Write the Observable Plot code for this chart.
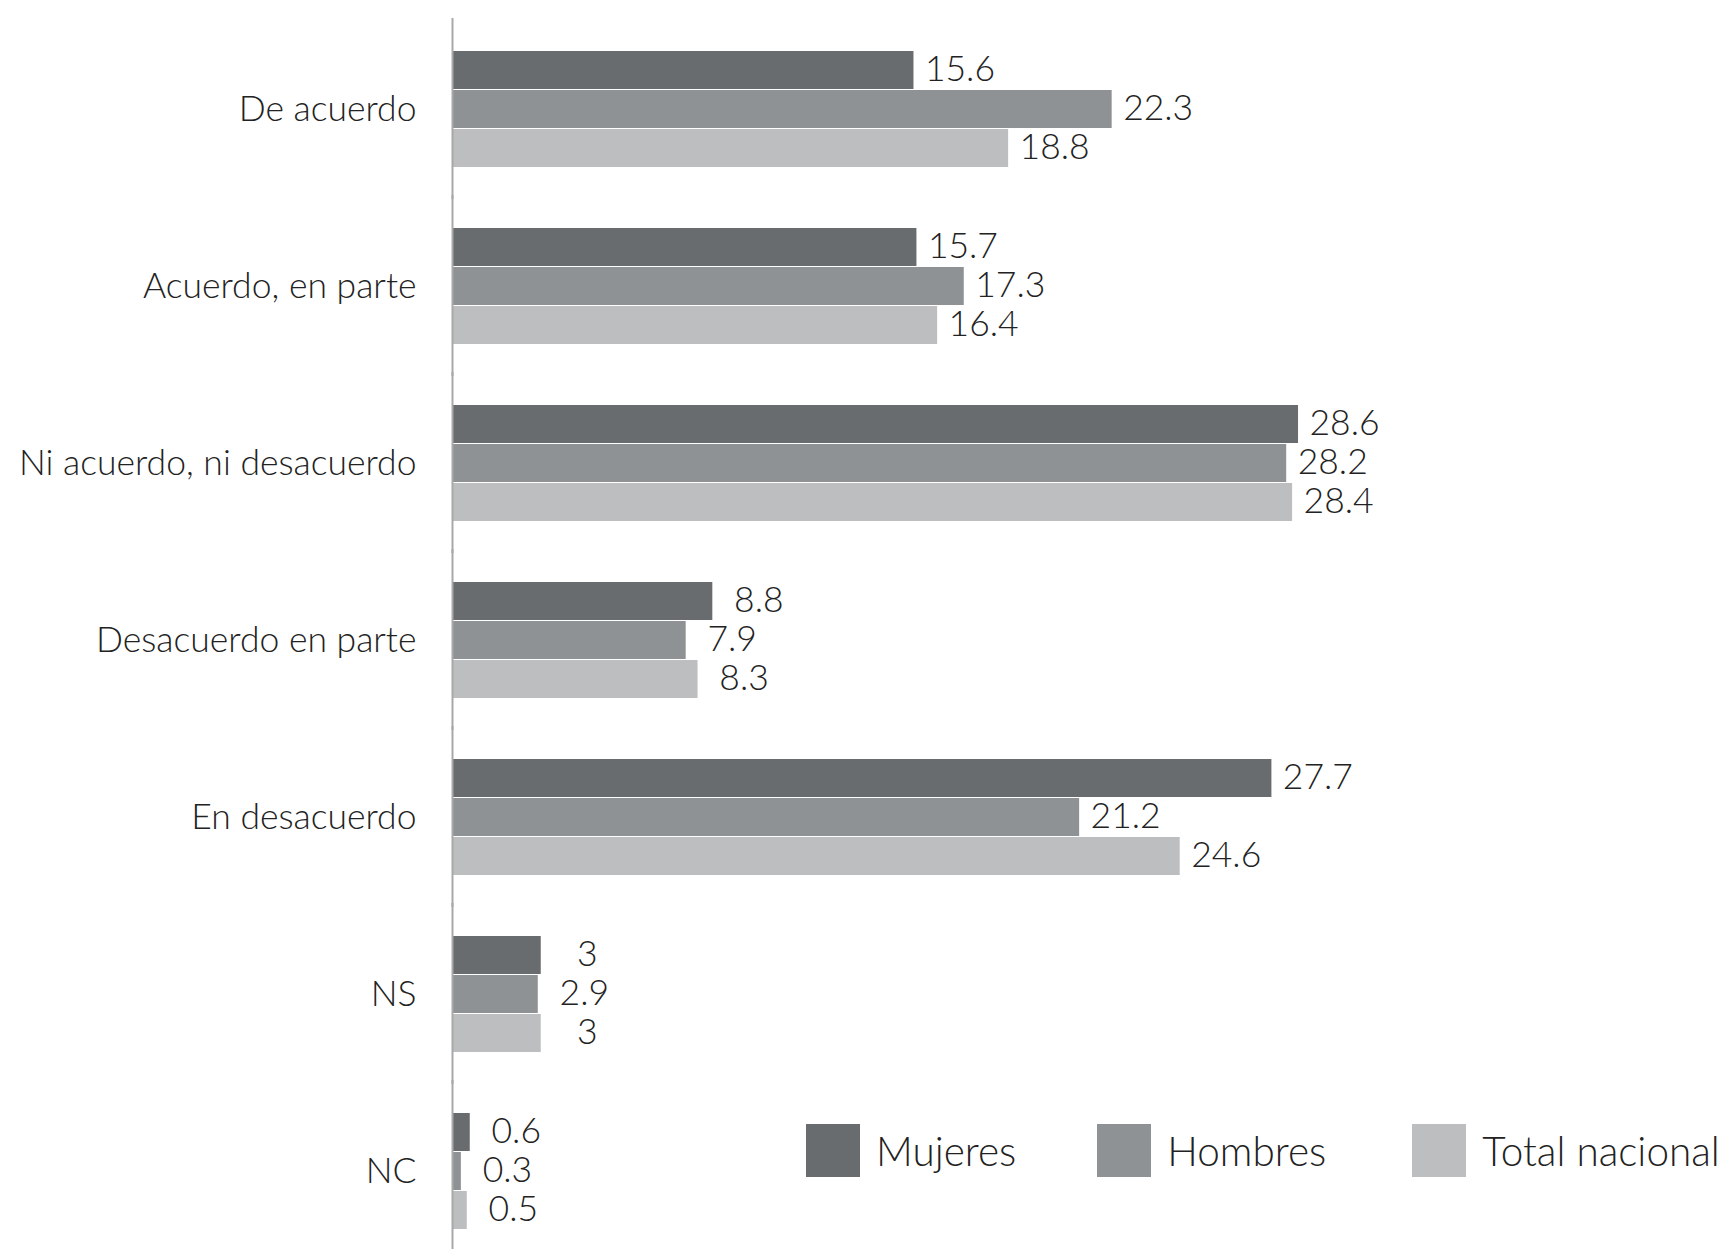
<!DOCTYPE html>
<html>
<head>
<meta charset="utf-8">
<script src="https://cdn.jsdelivr.net/npm/d3@7"></script>
<script src="https://cdn.jsdelivr.net/npm/@observablehq/plot@0.6"></script>
<style>
  html, body { margin: 0; padding: 0; background: #fff; }
  #wrap { position: relative; width: 1724px; height: 1249px; overflow: hidden; }
  #legend { position: absolute; left: 806px; top: 1124px; display: flex; align-items: center;
            font-family: Lato, "Open Sans", sans-serif; font-weight: 300; font-size: 40.5px; color: #222; }
  #legend .item { display: flex; align-items: center; }
  #legend .sw { width: 54px; height: 53px; margin-right: 16px; }
</style>
</head>
<body>
<div id="wrap"></div>
<script>
const categories = ["De acuerdo", "Acuerdo, en parte", "Ni acuerdo, ni desacuerdo", "Desacuerdo en parte", "En desacuerdo", "NS", "NC"];
const series = ["Mujeres", "Hombres", "Total nacional"];
const mujeres = [15.6, 15.7, 28.6, 8.8, 27.7, 3, 0.6];
const hombres = [22.3, 17.3, 28.2, 7.9, 21.2, 2.9, 0.3];
const totalNacional = [18.8, 16.4, 28.4, 8.3, 24.6, 3, 0.5];
const seriesColors = ["#696c6e", "#8f9294", "#bcbebf"];

const valuesBySeries = [mujeres, hombres, totalNacional];
const rows = [];
categories.forEach((c, i) => {
  series.forEach((s, j) => rows.push({category: c, series: s, value: valuesBySeries[j][i]}));
});

const chart = Plot.plot({
  width: 1724,
  height: 1249,
  marginLeft: 452,
  marginRight: 0,
  marginTop: 49,
  marginBottom: 17,
  style: {fontFamily: "Lato, 'Open Sans', sans-serif", fontWeight: 300, fontSize: "35.5px", color: "#222", background: "#fff"},
  x: {domain: [0, 43], axis: null},
  y: {domain: series, padding: 0, axis: null},
  fy: {domain: categories, paddingInner: 0.3375, paddingOuter: 0, label: null, tickSize: 0, tickPadding: 36},
  color: {domain: series, range: seriesColors},
  marks: [
    Plot.barX(rows, {fy: "category", y: "series", x: "value", fill: "series", insetBottom: 1}),
    Plot.ruleX([0], {stroke: "#a8a8a8", strokeWidth: 2, insetTop: -33, insetBottom: -31}),
    Plot.text(rows, {fy: "category", y: "series", x: "value", text: d => String(d.value), dx: 46, dy: -1, textAnchor: "middle", fill: "#222", fontSize: 35.5})
  ]
});
document.getElementById("wrap").appendChild(chart);

const color = chart.scale("color");
const legend = d3.select("#wrap").append("div").attr("id", "legend");
const gaps = [0, 81, 86];
series.forEach((s, i) => {
  const item = legend.append("div").attr("class", "item").style("margin-left", gaps[i] + "px");
  item.append("div").attr("class", "sw").style("background", color.apply(s));
  item.append("span").text(s);
});
</script>
</body>
</html>
